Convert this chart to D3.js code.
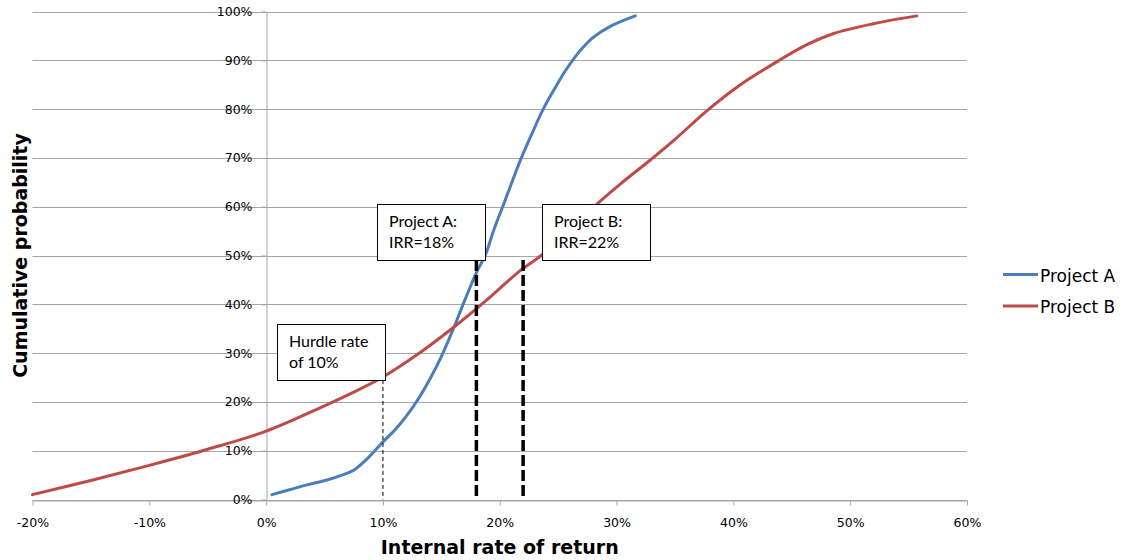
<!DOCTYPE html>
<html>
<head>
<meta charset="utf-8">
<script src="https://cdn.jsdelivr.net/npm/d3@7"></script>
<style>
  html, body { margin: 0; padding: 0; background: #fff; }
  svg { display: block; }
</style>
</head>
<body>
<svg id="chart" width="1125" height="560"></svg>
<script>
// Cumulative distribution of simulated IRR outcomes (both axes in %)
const irrA  = [0.5, 2, 3.5, 5.2, 6.5, 7.5, 8.5, 10, 11, 12, 13, 14, 15, 16, 17, 18, 18.75, 19.5, 20.3, 21.1, 21.9, 22.8, 23.7, 24.9, 25.6, 26.3, 27, 28, 29.5, 31.6];
const probA = [1, 2, 3, 4, 5, 6, 8, 11.8, 14.2, 17.1, 20.5, 24.6, 29.3, 34.8, 40.8, 46.5, 50, 55.3, 60.3, 65.4, 70.3, 75.2, 79.9, 85, 87.8, 90.2, 92.3, 94.7, 97, 99.1];

const irrB  = [-20, -15, -10, -5, 0, 5, 7.5, 10, 13, 16, 18.8, 21.7, 23.6, 26, 28.3, 30.5, 32.6, 35, 37.7, 40.6, 44, 46.3, 48.6, 52, 55.7];
const probB = [1, 3.9, 7, 10.3, 14, 19.2, 22, 25.1, 29.8, 35.2, 40.7, 46.8, 50.1, 55.2, 60.5, 65, 69, 73.8, 79.6, 85, 90.1, 93.2, 95.5, 97.5, 99.1];

const seriesNames = ["Project A", "Project B"];

const xTicks = [-20, -10, 0, 10, 20, 30, 40, 50, 60];
const yTicks = [0, 10, 20, 30, 40, 50, 60, 70, 80, 90, 100];

// Reference rates: hurdle rate and each project's IRR, each marked by a dropped line
const markerRates   = [10, 18, 22];
const calloutText   = [["Hurdle rate", "of 10%"], ["Project A:", "IRR=18%"], ["Project B:", "IRR=22%"]];
// probability level where each callout box sits, and the IRR at the box edge nearest its line
const calloutProb   = [24.5, 49.1, 49.1];
const calloutEdge   = [10.2, 18.7, 23.6];

// ---- layout & style ----
const colors = ["#4a7ebb", "#be4b48"];
const gridColor = "#a6a6a6";
const tickFont = "DejaVu Sans, Verdana, sans-serif";
const noteFont = "Lato, Carlito, Calibri, sans-serif";

const svg = d3.select("#chart");

const x = d3.scaleLinear().domain([-20, 60]).range([32.5, 967]);
const y = d3.scaleLinear().domain([0, 100]).range([499.5, 11.5]);

// horizontal gridlines
svg.append("g")
  .selectAll("line")
  .data(yTicks)
  .join("line")
  .attr("x1", x.range()[0])
  .attr("x2", x.range()[1])
  .attr("y1", d => Math.round(y(d)) + 0.5)
  .attr("y2", d => Math.round(y(d)) + 0.5)
  .attr("stroke", gridColor)
  .attr("stroke-width", 1);

// x axis along the 0% line
const gx = svg.append("g")
  .attr("transform", `translate(0,${Math.round(y(0)) + 0.5})`)
  .call(d3.axisBottom(x).tickValues(xTicks).tickFormat(d => d + "%").tickSize(5).tickSizeOuter(0));
gx.select(".domain").attr("stroke", gridColor);
gx.selectAll(".tick line").attr("stroke", gridColor);
gx.selectAll(".tick text")
  .attr("dy", null)
  .attr("y", 26.5)
  .attr("fill", "#000")
  .style("font-family", tickFont)
  .style("font-size", "12.5px");

// y axis crossing at IRR = 0%
const gy = svg.append("g")
  .attr("transform", `translate(${Math.round(x(0)) + 0.5},0)`)
  .call(d3.axisLeft(y).tickValues(yTicks).tickFormat(d => d + "%").tickSize(5).tickPadding(9).tickSizeOuter(0));
gy.select(".domain").attr("stroke", gridColor);
gy.selectAll(".tick line").attr("stroke", gridColor);
gy.selectAll(".tick text")
  .attr("fill", "#000")
  .style("font-family", tickFont)
  .style("font-size", "12.5px");

// axis titles
svg.append("text")
  .attr("x", (x.range()[0] + x.range()[1]) / 2)
  .attr("y", 554)
  .attr("text-anchor", "middle")
  .style("font-family", tickFont)
  .style("font-weight", "bold")
  .style("font-size", "19px")
  .text("Internal rate of return");

svg.append("text")
  .attr("transform", `translate(27,${(y.range()[0] + y.range()[1]) / 2}) rotate(-90)`)
  .attr("text-anchor", "middle")
  .style("font-family", tickFont)
  .style("font-weight", "bold")
  .style("font-size", "19px")
  .text("Cumulative probability");

// distribution curves
const series = [
  irrA.map((v, i) => ({ irr: v, p: probA[i] })),
  irrB.map((v, i) => ({ irr: v, p: probB[i] }))
];
const line = d3.line()
  .x(d => x(d.irr))
  .y(d => y(d.p))
  .curve(d3.curveCatmullRom.alpha(0.5));

svg.append("g")
  .selectAll("path")
  .data(series)
  .join("path")
  .attr("d", line)
  .attr("fill", "none")
  .attr("stroke", (d, i) => colors[i])
  .attr("stroke-width", 3)
  .attr("stroke-linecap", "round")
  .attr("stroke-linejoin", "round");

// dropped reference lines at each stated rate
const drops = markerRates.map((r, i) => ({ rate: r, p: calloutProb[i], heavy: i > 0 }));
svg.append("g")
  .selectAll("line")
  .data(drops)
  .join("line")
  .attr("x1", d => x(d.rate))
  .attr("x2", d => x(d.rate))
  .attr("y1", d => y(d.p))
  .attr("y2", y(0))
  .attr("stroke", "#000")
  .attr("stroke-width", d => d.heavy ? 3.5 : 1)
  .attr("stroke-dasharray", d => d.heavy ? "11,4" : "4,3");

// callout boxes
const boxW = 108, boxH = 56;
const callouts = svg.append("g")
  .selectAll("g")
  .data(calloutText.map((t, i) => ({ text: t, edge: calloutEdge[i], p: calloutProb[i], right: i === 2 })))
  .join("g")
  .attr("transform", d => {
    const left = d.right ? x(d.edge) : x(d.edge) - boxW;
    const top = y(d.p) - boxH;
    return `translate(${Math.round(left) + 0.5},${Math.round(top) + 0.5})`;
  });
callouts.append("rect")
  .attr("width", boxW)
  .attr("height", boxH)
  .attr("fill", "#fff")
  .attr("stroke", "#000")
  .attr("stroke-width", 1);
callouts.selectAll("text")
  .data(d => d.text)
  .join("text")
  .attr("x", 11.5)
  .attr("y", (d, i) => 22.5 + i * 21)
  .style("font-family", noteFont)
  .style("font-size", "16px")
  .attr("fill", "#000")
  .text(d => d);

// legend
const legend = svg.append("g")
  .selectAll("g")
  .data(seriesNames)
  .join("g")
  .attr("transform", (d, i) => `translate(1003,${274.5 + i * 31.5})`);
legend.append("line")
  .attr("x1", 0)
  .attr("x2", 35)
  .attr("stroke", (d, i) => colors[i])
  .attr("stroke-width", 3);
legend.append("text")
  .attr("x", 37)
  .attr("y", 7)
  .style("font-family", tickFont)
  .style("font-size", "17px")
  .attr("fill", "#000")
  .text(d => d);
</script>
</body>
</html>
